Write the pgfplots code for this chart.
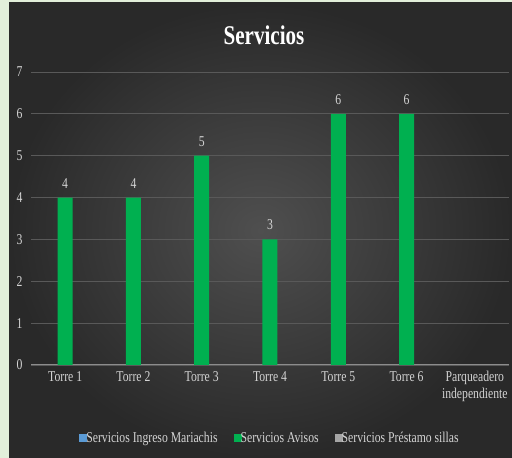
\documentclass[border=0pt]{standalone}
\usepackage{pgfplots}
\pgfplotsset{compat=1.18}
\usepackage{fontspec}
\setmainfont{Liberation Serif}[FakeStretch=0.78]

\definecolor{frame}{HTML}{E2EFDA}
\definecolor{bgin}{HTML}{4F4F4F}
\definecolor{bgout}{HTML}{292929}
\definecolor{gridc}{HTML}{595959}
\definecolor{txt}{HTML}{D4D4D4}
\definecolor{avisos}{HTML}{00B050}
\definecolor{mariachis}{HTML}{5B9BD5}
\definecolor{sillas}{HTML}{A5A5A5}

\pgfplotsset{
    /pgfplots/ybar legend/.style={
        /pgfplots/legend image code/.code={\fill[##1] (0pt,-4pt) rectangle (8pt,4pt);}},
}

\begin{document}
\begin{tikzpicture}
\useasboundingbox (0,0) rectangle (512pt,458pt);
\fill[frame] (0,0) rectangle (512pt,458pt);
\shade[inner color=bgin, outer color=bgout] (9pt,0) rectangle (512pt,455pt);

% title with a soft shadow
\node[font=\fontsize{27}{29}\selectfont\bfseries, text=black!80] at (265.5pt,421.5pt) {Servicios};
\node[font=\fontsize{27}{29}\selectfont\bfseries, text=white] at (264pt,423pt) {Servicios};

\begin{axis}[
    at={(31pt,93pt)}, anchor=south west,
    scale only axis,
    width=478pt, height=293pt,
    xmin=-0.5, xmax=6.5,
    ymin=0, ymax=7,
    ytick={0,...,7},
    xtick={0,...,6},
    xticklabels={Torre 1,Torre 2,Torre 3,Torre 4,Torre 5,Torre 6,{Parqueadero\\independiente}},
    major tick length=0pt,
    axis line style={draw=none},
    xmajorgrids=false,
    ymajorgrids=true,
    grid style={draw=gridc, line width=0.8pt},
    font=\fontsize{15}{17}\selectfont,
    /pgf/number format/assume math mode=true,
    ticklabel style={text=txt},
    yticklabel style={xshift=-5pt},
    xticklabel style={align=center, yshift=-3pt},
    legend columns=-1,
    legend style={at={(0.5,-0.25)}, anchor=center, draw=none, fill=none,
        text=txt, font=\fontsize{15}{17}\selectfont,
        /tikz/every even column/.append style={column sep=14pt},
        /tikz/every odd column/.append style={column sep=-3pt}},
    legend image code/.code={\fill[#1] (0pt,-4pt) rectangle (8pt,4pt);},
]
\draw[black!45, line width=1pt] (axis cs:-0.5,0) -- (axis cs:6.5,0);

\addlegendimage{fill=mariachis, draw=none}
\addlegendentry{Servicios Ingreso Mariachis}

\addplot[ybar, bar width=15pt, fill=avisos, draw=none,
    nodes near coords,
    every node near coord/.append style={text=txt, yshift=6pt,
        font=\fontsize{15}{17}\selectfont}] coordinates {
    (0,4) (1,4) (2,5) (3,3) (4,6) (5,6)
};
\addlegendentry{Servicios Avisos}

\addlegendimage{fill=sillas, draw=none}
\addlegendentry{Servicios Préstamo sillas}
\end{axis}
\end{tikzpicture}
\end{document}
